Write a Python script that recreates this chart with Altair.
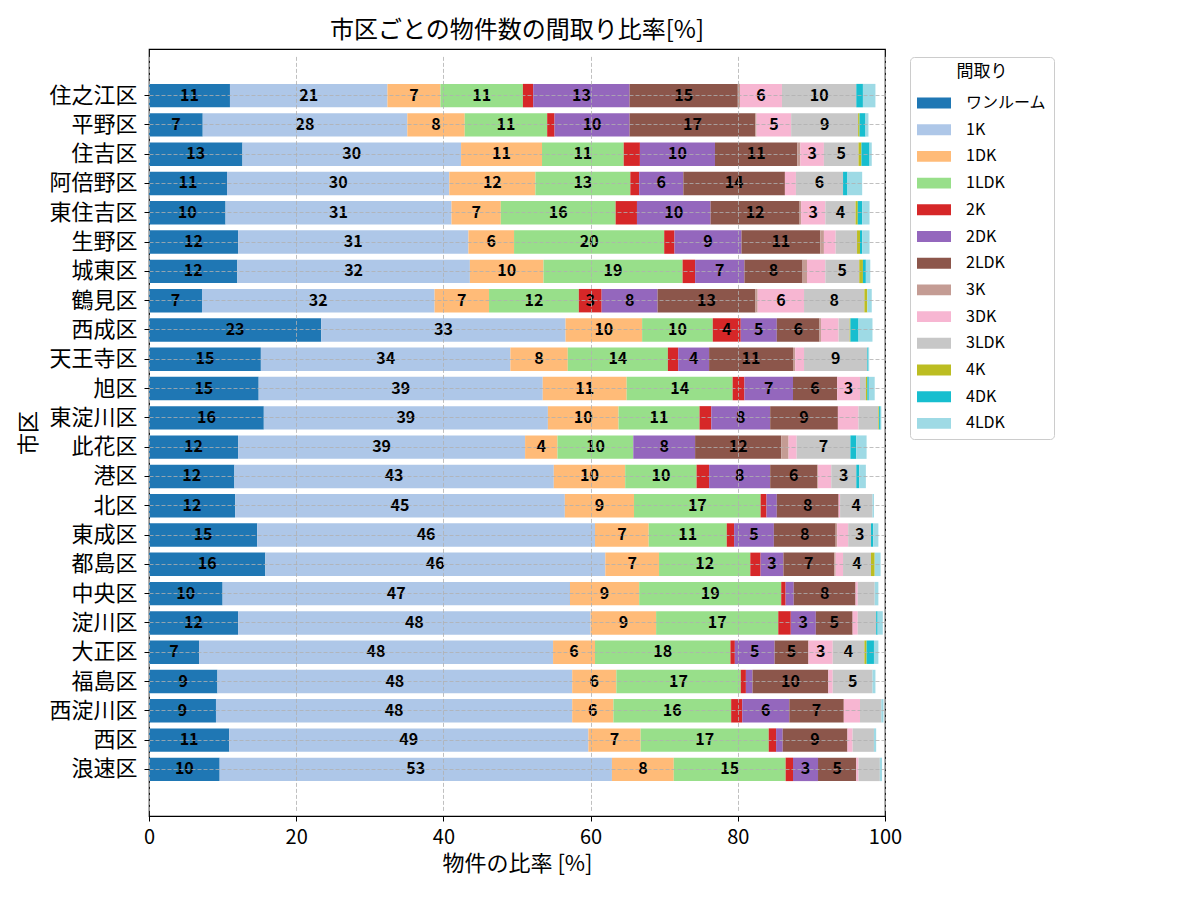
import altair as alt
import pandas as pd

FONT = "Noto Sans CJK JP"

districts = ["住之江区", "平野区", "住吉区", "阿倍野区", "東住吉区", "生野区", "城東区", "鶴見区",
             "西成区", "天王寺区", "旭区", "東淀川区", "此花区", "港区", "北区", "東成区",
             "都島区", "中央区", "淀川区", "大正区", "福島区", "西淀川区", "西区", "浪速区"]

layouts = ["ワンルーム", "1K", "1DK", "1LDK", "2K", "2DK", "2LDK", "3K", "3DK", "3LDK", "4K", "4DK", "4LDK"]
colors = ["#1f77b4", "#aec7e8", "#ffbb78", "#98df8a", "#d62728", "#9467bd", "#8c564b",
          "#c49c94", "#f7b6d2", "#c7c7c7", "#bcbd22", "#17becf", "#9edae5"]

one_room = [11.0, 7.3, 12.7, 10.6, 10.4, 12.1, 12.0, 7.2, 23.4, 15.2, 14.9, 15.6,
            12.1, 11.6, 11.7, 14.7, 15.8, 10.0, 12.1, 6.8, 9.3, 9.1, 10.9, 9.6]
k1 = [21.4, 27.8, 29.7, 30.2, 30.7, 31.3, 31.6, 31.6, 33.2, 33.9, 38.6, 38.6,
      39.0, 43.4, 44.8, 45.9, 46.2, 47.2, 47.9, 48.1, 48.2, 48.4, 48.8, 53.3]
dk1 = [7.2, 7.8, 11.0, 11.7, 6.7, 6.2, 10.0, 7.4, 10.4, 7.8, 11.4, 9.6,
       4.4, 9.7, 9.4, 7.3, 7.3, 9.4, 8.9, 5.7, 6.0, 5.6, 7.1, 8.4]
ldk1 = [11.2, 11.2, 11.1, 12.9, 15.6, 20.4, 18.9, 12.2, 9.6, 13.6, 14.4, 11.0,
        10.3, 9.7, 17.2, 10.6, 12.4, 19.3, 16.6, 18.4, 16.9, 16.0, 17.4, 15.2]
k2 = [1.4, 1.0, 2.2, 1.2, 2.9, 1.4, 1.7, 3.1, 3.8, 1.4, 1.6, 1.6,
      0.0, 1.7, 0.8, 1.0, 1.4, 0.6, 1.7, 0.6, 0.7, 1.5, 1.0, 1.0]
dk2 = [13.1, 10.2, 10.2, 6.0, 10.0, 9.1, 6.7, 7.6, 4.9, 4.2, 6.6, 8.0,
       8.4, 8.3, 1.4, 5.4, 3.1, 1.1, 3.4, 5.4, 0.9, 6.4, 0.9, 3.4]
ldk2 = [14.7, 17.1, 11.2, 13.8, 12.1, 10.7, 7.9, 13.3, 5.8, 11.4, 6.0, 9.2,
        11.7, 6.4, 8.4, 8.4, 6.9, 8.4, 5.0, 4.6, 10.3, 7.4, 8.8, 5.2]
k3 = [0.3, 0.15, 0.4, 0.0, 0.2, 0.5, 0.6, 0.3, 0.2, 0.3, 0.0, 0.0,
      1.0, 0.1, 0.0, 0.2, 0.2, 0.0, 0.0, 0.0, 0.0, 0.0, 0.0, 0.0]
dk3 = [5.7, 4.7, 3.2, 1.5, 3.3, 1.6, 2.5, 6.3, 2.4, 1.2, 3.1, 2.8,
       1.1, 1.8, 0.2, 1.5, 1.0, 0.3, 0.7, 3.3, 0.6, 2.2, 0.7, 0.3]
ldk3 = [10.1, 9.1, 4.7, 6.4, 4.1, 2.9, 4.6, 8.2, 1.5, 8.6, 0.8, 2.7,
        7.3, 3.4, 4.4, 3.1, 3.8, 2.3, 2.5, 4.3, 5.4, 2.9, 2.9, 2.9]
k4 = [0.0, 0.2, 0.4, 0.0, 0.3, 0.4, 0.5, 0.4, 0.1, 0.0, 0.2, 0.1,
      0.0, 0.0, 0.0, 0.0, 0.5, 0.0, 0.0, 0.3, 0.0, 0.0, 0.0, 0.0]
dk4 = [0.9, 0.8, 1.1, 0.6, 0.6, 0.3, 0.4, 0.0, 1.1, 0.15, 0.2, 0.2,
       0.8, 0.4, 0.0, 0.3, 0.0, 0.0, 0.2, 1.0, 0.0, 0.0, 0.0, 0.0]
ldk4 = [1.7, 0.4, 0.3, 2.0, 1.0, 1.0, 0.6, 0.6, 1.9, 0.1, 0.8, 0.1,
        1.4, 0.9, 0.2, 0.7, 0.8, 0.5, 0.7, 0.6, 0.4, 0.3, 0.3, 0.3]

series = [one_room, k1, dk1, ldk1, k2, dk2, ldk2, k3, dk3, ldk3, k4, dk4, ldk4]

rows = []
for i, d in enumerate(districts):
    start = 0.0
    for j, lay in enumerate(layouts):
        v = series[j][i]
        rows.append({
            "district": d, "layout": lay, "value": v,
            "start": start, "end": start + v, "mid": start + v / 2,
            "label": f"{v:.0f}" if v >= 3 else "",
        })
        start += v
df = pd.DataFrame(rows)
bars_df = df[df["value"] > 0]
text_df = df[df["label"] != ""]

PLOT_W = 736
PLOT_H = 767
Y_RANGE = [5.6, PLOT_H - 5.6]

y_scale = alt.Scale(paddingInner=0.2, paddingOuter=1.0, range=Y_RANGE)

y_enc = alt.Y(
    "district:N", sort=districts, title="市区",
    scale=y_scale,
    axis=alt.Axis(
        bandPosition=0.5, grid=True, gridDash=[4, 2], gridColor="#b0b0b0", gridWidth=0.8,
        labelFontSize=22, titleFontSize=22, labelPadding=7, titlePadding=8,
        domain=False, zindex=1,
    ),
)

x_enc = alt.X(
    "start:Q", title="物件の比率 [%]",
    scale=alt.Scale(domain=[0, 100], nice=False),
    axis=alt.Axis(
        values=[0, 20, 40, 60, 80, 100], grid=True, gridDash=[4, 2], gridColor="#b0b0b0",
        gridWidth=0.8, labelFontSize=20, titleFontSize=22, labelPadding=6, titlePadding=6,
        labelFlush=False, labelOverlap=False, zindex=1,
    ),
)

bars = alt.Chart(bars_df).mark_bar().encode(
    x=x_enc,
    x2="end:Q",
    y=y_enc,
    color=alt.Color(
        "layout:N", title="間取り",
        scale=alt.Scale(domain=layouts, range=colors),
        legend=alt.Legend(
            orient="none", legendX=761, legendY=8,
            symbolType="M-1,-0.32H1V0.32H-1Z", symbolSize=1156, symbolStrokeWidth=0,
            labelOffset=15, labelFontSize=16, titleFontSize=17, titleFontWeight="normal",
            titleAnchor="middle", titlePadding=5, rowPadding=1.7, padding=7,
            fillColor="white", strokeColor="#cccccc", cornerRadius=4,
            labelFont=FONT, titleFont=FONT, labelColor="black", titleColor="black",
        ),
    ),
)

texts = alt.Chart(text_df).mark_text(
    font=FONT, fontSize=16, fontWeight="bold", color="black", align="center", baseline="middle"
).encode(
    x="mid:Q",
    y=alt.Y("district:N", sort=districts, scale=y_scale),
    text="label:N",
)

chart = alt.layer(bars, texts).properties(
    width=PLOT_W, height=PLOT_H,
    title=alt.Title("市区ごとの物件数の間取り比率[%]", fontSize=24, font=FONT, fontWeight="normal",
                    color="black", anchor="middle", frame="group", offset=6),
    padding={"left": 141, "top": 41, "right": 200, "bottom": 70},
    autosize=alt.AutoSizeParams(type="none"),
).configure_view(
    stroke="black", strokeWidth=1.2
).configure_axis(
    labelFont=FONT, titleFont=FONT, labelColor="black", titleColor="black",
    titleFontWeight="normal", domainColor="black", tickColor="black", tickSize=5,
    domainWidth=1.2,
)

chart.save("out.html", embed_options={"renderer": "svg", "actions": False})
